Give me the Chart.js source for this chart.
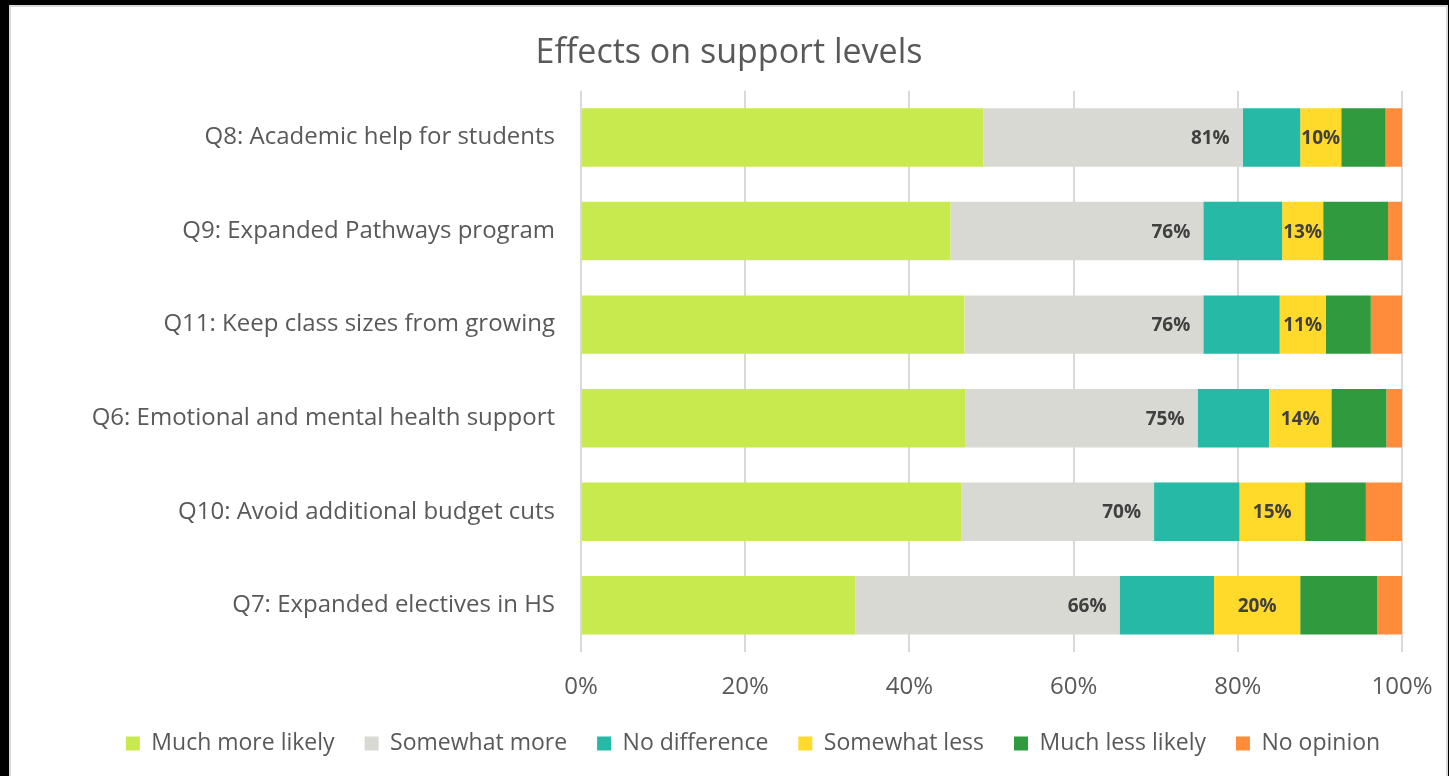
<!DOCTYPE html>
<html>
<head>
<meta charset="utf-8">
<title>Effects on support levels</title>
<script src="https://cdn.jsdelivr.net/npm/chart.js@4.4.1/dist/chart.umd.min.js"></script>
<style>
  html, body { margin: 0; padding: 0; background: #000; overflow: hidden; }
  #panel {
    position: absolute; left: 9px; top: 5px; width: 1435px; height: 780px;
    background: #fff; border: 2px solid #d9d9d9; border-bottom: none;
  }
  #wrap { position: absolute; left: 0; top: 0; width: 1449px; height: 776px; }
</style>
</head>
<body>
<div id="panel"></div>
<div id="wrap"><canvas id="c" width="1449" height="776"></canvas></div>
<script>
// Survey questions, top to bottom
const categories = [
  'Q8: Academic help for students',
  'Q9: Expanded Pathways program',
  'Q11: Keep class sizes from growing',
  'Q6: Emotional and mental health support',
  'Q10: Avoid additional budget cuts',
  'Q7: Expanded electives in HS'
];

// Share of responses (%) per answer
const muchMoreLikely = [49.0, 45.0, 46.7, 46.8, 46.3, 33.4];
const somewhatMore   = [31.6, 30.8, 29.1, 28.3, 23.5, 32.2];
const noDifference   = [7.0, 9.6, 9.3, 8.7, 10.4, 11.5];
const somewhatLess   = [5.0, 5.0, 5.6, 7.6, 8.0, 10.5];
const muchLessLikely = [5.4, 7.9, 5.5, 6.7, 7.4, 9.4];
const noOpinion      = [2.0, 1.7, 3.8, 1.9, 4.4, 3.0];

const xTickValues = [0, 20, 40, 60, 80, 100];

// Totals shown on the bars: all "more likely" and all "less likely"
const positiveTotals = muchMoreLikely.map((v, i) => v + somewhatMore[i]);
const negativeTotals = somewhatLess.map((v, i) => v + muchLessLikely[i]);

const FONT = '"Open Sans", Lato, sans-serif';
const TEXT = '#595959';

// Writes the summed percentages onto the bars
const totalsPlugin = {
  id: 'totals',
  afterDatasetsDraw(chart) {
    const ctx = chart.ctx;
    ctx.save();
    ctx.font = 'bold 19px ' + FONT;
    ctx.fillStyle = '#404040';
    ctx.textBaseline = 'middle';
    chart.getDatasetMeta(1).data.forEach((bar, i) => {
      const p = bar.getProps(['x', 'y'], true);
      ctx.textAlign = 'right';
      ctx.fillText(Math.round(positiveTotals[i]) + '%', p.x - 13, p.y + 1);
    });
    chart.getDatasetMeta(3).data.forEach((bar, i) => {
      const p = bar.getProps(['x', 'y', 'base'], true);
      ctx.textAlign = 'center';
      ctx.fillText(Math.round(negativeTotals[i]) + '%', (p.x + p.base) / 2, p.y + 1);
    });
    ctx.restore();
  }
};

// Nudges the legend row to the right of the title's centre line
const legendOffsetPlugin = {
  id: 'legendOffset',
  afterLayout(chart) {
    if (chart.legend) {
      chart.legend.left += 24;
      chart.legend.right += 24;
      chart.legend.top += 1;
      chart.legend.bottom += 1;
    }
  }
};

const series = [
  { label: 'Much more likely', data: muchMoreLikely, color: '#C9EA4F' },
  { label: 'Somewhat more',    data: somewhatMore,   color: '#D9D9D4' },
  { label: 'No difference',    data: noDifference,   color: '#25B9A6' },
  { label: 'Somewhat less',    data: somewhatLess,   color: '#FFDA2B' },
  { label: 'Much less likely', data: muchLessLikely, color: '#309A3F' },
  { label: 'No opinion',       data: noOpinion,      color: '#FF8C3A' }
];

new Chart(document.getElementById('c'), {
  type: 'bar',
  data: {
    labels: categories,
    datasets: series.map(s => ({
      label: s.label,
      data: s.data,
      backgroundColor: s.color,
      borderWidth: 0,
      barPercentage: 0.625,
      categoryPercentage: 1.0
    }))
  },
  options: {
    indexAxis: 'y',
    responsive: false,
    animation: false,
    devicePixelRatio: 1,
    layout: { padding: { left: 56, right: 47, top: 0, bottom: 12 } },
    scales: {
      x: {
        stacked: true,
        min: 0,
        max: 100,
        afterBuildTicks(scale) {
          scale.ticks = xTickValues.map(v => ({ value: v }));
        },
        afterFit(scale) { scale.height = 49; },
        grid: {
          color: '#D9D9D9', lineWidth: 2,
          drawTicks: true, tickLength: 18, tickColor: 'rgba(0,0,0,0)'
        },
        border: { display: false },
        ticks: {
          padding: 3,
          color: TEXT,
          font: { family: FONT, size: 24 },
          callback: v => v + '%'
        }
      },
      y: {
        stacked: true,
        afterFit(scale) { scale.width = 525; },
        grid: { display: false, drawTicks: false },
        border: { display: false },
        ticks: {
          padding: 26,
          color: TEXT,
          font: { family: FONT, size: 24 }
        }
      }
    },
    plugins: {
      title: {
        display: true,
        text: 'Effects on support levels',
        color: TEXT,
        font: { family: FONT, size: 34, weight: 'normal' },
        padding: { top: 33, bottom: 17 }
      },
      legend: {
        position: 'bottom',
        labels: {
          boxWidth: 14,
          boxHeight: 14,
          padding: 30,
          color: TEXT,
          font: { family: FONT, size: 23 }
        }
      },
      tooltip: { enabled: false }
    }
  },
  plugins: [totalsPlugin, legendOffsetPlugin]
});
</script>
</body>
</html>
